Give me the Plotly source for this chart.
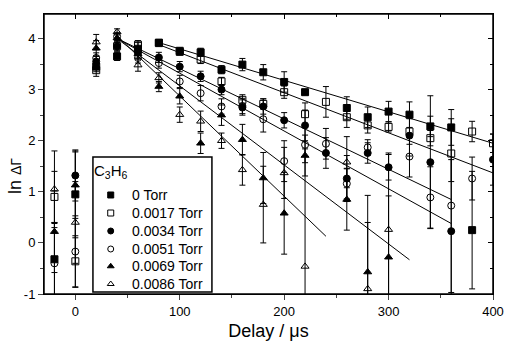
import plotly.graph_objects as go

delay = [-20, 0, 20, 40, 60, 80, 100, 120, 140, 160, 180, 200, 220, 240, 260, 280, 300, 320, 340, 360, 380, 400]
N = None

torr_0 = [-0.32, 0.95, 3.45, 3.65, 3.80, 3.92, 3.74, 3.73, 3.39, 3.49, 3.34, 3.15, 2.95, N, 2.64, 2.46, 2.57, 2.51, 2.28, 2.26, 0.25, N]
err_0 = [0.7, 0.85, 0.1, 0.08, 0.12, 0.06, 0.06, 0.08, 0.08, 0.12, 0.15, 0.2, 0.05, N, 0.22, 0.2, 0.2, 0.25, 0.2, 0.35, 1.15, N]

torr_17 = [0.90, -0.36, 3.38, 3.85, 3.88, 3.91, 3.76, 3.59, 3.16, 2.80, 2.72, 2.95, 2.52, 2.76, 2.46, 2.30, 2.27, 2.18, 2.05, 1.75, 2.18, 1.95]
err_17 = [0.5, 0.5, 0.12, 0.08, 0.08, 0.05, 0.06, 0.08, 0.08, 0.1, 0.1, 0.12, 0.22, 0.3, 0.2, 0.15, 0.1, 0.25, 0.15, 0.55, 0.2, 0.18]

torr_34 = [N, 1.32, 3.55, 3.85, 3.72, 3.63, 3.45, 3.26, 3.00, 2.65, 2.67, 2.40, 2.30, 1.76, 1.26, 1.76, 1.48, 2.10, 1.58, 0.23, N, 1.63]
err_34 = [N, 0.5, 0.1, 0.1, 0.1, 0.1, 0.1, 0.1, 0.1, 0.15, 0.15, 0.15, 0.3, 0.3, 0.45, 0.2, 0.25, 0.4, 1.3, 1.4, N, 0.5]

torr_51 = [-0.40, -0.17, 3.62, 4.04, 3.62, 3.52, 3.16, 2.93, 2.67, 2.68, 2.42, 1.60, 1.92, 1.94, 1.16, 1.87, N, 1.69, 0.89, 0.73, 1.26, N]
err_51 = [0.8, 0.7, 0.1, 0.08, 0.1, 0.1, 0.12, 0.15, 0.15, 0.15, 0.25, 0.4, 0.35, 0.3, 0.3, 0.15, N, 0.4, 0.6, 1.7, 0.42, N]

torr_69 = [0.22, 1.13, 3.81, 4.01, 3.70, 3.06, 2.87, 1.95, 2.50, 2.02, 1.27, 0.58, 1.71, N, 0.85, -0.57, -0.28, N, N, N, N, N]
err_69 = [0.8, 0.65, 0.15, 0.08, 0.1, 0.1, 0.15, 0.2, 0.2, 0.3, 0.5, 0.8, 0.4, N, 0.6, 1.5, 1.2, N, N, N, N, N]

torr_86 = [1.05, 0.40, 3.93, 4.13, 3.48, 3.23, 2.51, 2.38, 2.00, 1.43, 0.75, 1.37, -0.46, N, 1.58, -0.90, 0.26, N, N, N, N, N]
err_86 = [0.75, 0.8, 0.15, 0.06, 0.12, 0.1, 0.15, 0.2, 0.15, 0.3, 0.75, 0.5, 2.3, N, 0.5, 1.3, 1.5, N, N, N, N, N]

labels = ["0 Torr", "0.0017 Torr", "0.0034 Torr", "0.0051 Torr", "0.0069 Torr", "0.0086 Torr"]
legend_title = "C<sub>3</sub>H<sub>6</sub>"
series = [torr_0, torr_17, torr_34, torr_51, torr_69, torr_86]
errors = [err_0, err_17, err_34, err_51, err_69, err_86]
symbols = ["square", "square-open", "circle", "circle-open", "triangle-up", "triangle-up-open"]

# linear fits: start delay, end delay, value at start, value at end
fit_start = [80, 80, 40, 40, 40, 40]
fit_end = [400, 400, 360, 360, 320, 240]
fit_v0 = [3.92, 3.88, 4.00, 4.00, 4.00, 4.05]
fit_v1 = [1.95, 1.37, 0.85, 0.38, -0.33, 0.13]

xticks = [0, 100, 200, 300, 400]
yticks = [-1, 0, 1, 2, 3, 4]
yticktext = ["-1", "0", "1", "2", "3", "4"]
xrange_ = [-30, 400]
yrange_ = [-1, 4.48]

fig = go.Figure()

for i in range(6):
    fig.add_trace(go.Scatter(
        x=[fit_start[i], fit_end[i]], y=[fit_v0[i], fit_v1[i]],
        mode="lines", line=dict(color="black", width=1), showlegend=False, hoverinfo="skip"))

for i in range(6):
    xs = [d for d, v in zip(delay, series[i]) if v is not None]
    ys = [v for v in series[i] if v is not None]
    es = [e for v, e in zip(series[i], errors[i]) if v is not None]
    fig.add_trace(go.Scatter(
        x=xs, y=ys, mode="markers", name=labels[i], showlegend=False,
        marker=dict(symbol=symbols[i], size=7, color="black", line=dict(color="black", width=1)),
        error_y=dict(type="data", array=es, visible=True, color="black", thickness=1, width=3)))

# hand-built legend (box, markers, text annotations) in paper fractions
leg_x0, leg_x1, leg_y0, leg_y1 = 0.109, 0.374, 0.007, 0.489
leg_mx, leg_tx = 0.1486, 0.191
leg_rows = [0.3536, 0.2893, 0.2250, 0.1607, 0.0990, 0.0357]

def px_x(f):
    return xrange_[0] + f * (xrange_[1] - xrange_[0])

def px_y(f):
    return yrange_[0] + f * (yrange_[1] - yrange_[0])

fig.add_shape(type="rect", xref="paper", yref="paper", x0=leg_x0, x1=leg_x1, y0=leg_y0, y1=leg_y1,
              line=dict(color="black", width=1.5), fillcolor="white", layer="below")
for i in range(6):
    fig.add_trace(go.Scatter(x=[px_x(leg_mx)], y=[px_y(leg_rows[i])], mode="markers",
                             marker=dict(symbol=symbols[i], size=6, color="black", line=dict(color="black", width=1)),
                             showlegend=False, hoverinfo="skip"))
    fig.add_annotation(text=labels[i], xref="paper", yref="paper", x=leg_tx, y=leg_rows[i],
                       xanchor="left", yanchor="middle", showarrow=False, font=dict(size=14))
fig.add_annotation(text=legend_title, xref="paper", yref="paper", x=0.108, y=0.436,
                   xanchor="left", yanchor="middle", showarrow=False, font=dict(size=15))

# plot frame
fig.add_shape(type="rect", xref="paper", yref="paper", x0=0, x1=1, y0=0, y1=1,
              line=dict(color="black", width=1.5), fillcolor="rgba(0,0,0,0)", layer="above")

# top / right axes with inward ticks
fig.add_trace(go.Scatter(x=[100], y=[1], xaxis="x2", yaxis="y2", mode="markers",
                         marker=dict(size=1, color="white"), showlegend=False, hoverinfo="skip"))

font_family = "Liberation Sans, Arial, sans-serif"

fig.update_layout(
    width=505, height=345,
    margin=dict(l=44, r=12, t=14, b=51, autoexpand=False),
    paper_bgcolor="white", plot_bgcolor="white",
    font=dict(family=font_family, size=13, color="black"),
    showlegend=False,
    xaxis=dict(range=xrange_, tickvals=xticks, ticks="outside", ticklen=5, tickwidth=1, automargin=False,
               minor=dict(dtick=50, tick0=0, ticks="outside", ticklen=3, tickwidth=1),
               showline=True, linecolor="black", linewidth=1, showgrid=False, zeroline=False,
               title=dict(text="Delay / μs", font=dict(size=18), standoff=6),
               tickfont=dict(size=13)),
    yaxis=dict(range=yrange_, tickvals=yticks, ticktext=yticktext, ticks="outside", ticklen=5, tickwidth=1, automargin=False,
               minor=dict(dtick=0.5, tick0=0, ticks="outside", ticklen=3, tickwidth=1),
               showline=True, linecolor="black", linewidth=1, showgrid=False, zeroline=False,
               tickfont=dict(size=13)),
    xaxis2=dict(range=xrange_, overlaying="x", side="top", tickvals=xticks, ticks="inside", ticklen=5, automargin=False,
                tickcolor="black", tickwidth=1,
                minor=dict(dtick=50, tick0=0, ticks="inside", ticklen=3, tickcolor="black"),
                showticklabels=False, showline=True, linecolor="black", linewidth=1, showgrid=False, zeroline=False),
    yaxis2=dict(range=yrange_, overlaying="y", side="right", tickvals=yticks, ticks="inside", ticklen=5, automargin=False,
                tickcolor="black", tickwidth=1,
                minor=dict(dtick=0.5, tick0=0, ticks="inside", ticklen=3, tickcolor="black"),
                showticklabels=False, showline=True, linecolor="black", linewidth=1, showgrid=False, zeroline=False),
)

fig.add_annotation(text="ln <span style='font-size:14px'>ΔΓ</span>", xref="paper", yref="paper",
                   x=-0.063, y=0.42, textangle=-90, showarrow=False,
                   font=dict(size=18), xanchor="center", yanchor="middle")

fig.write_html("out.html", config={"displayModeBar": False},
               post_script="document.body.style.margin='0';document.body.style.padding='0';"
                           "document.documentElement.style.overflow='hidden';")
